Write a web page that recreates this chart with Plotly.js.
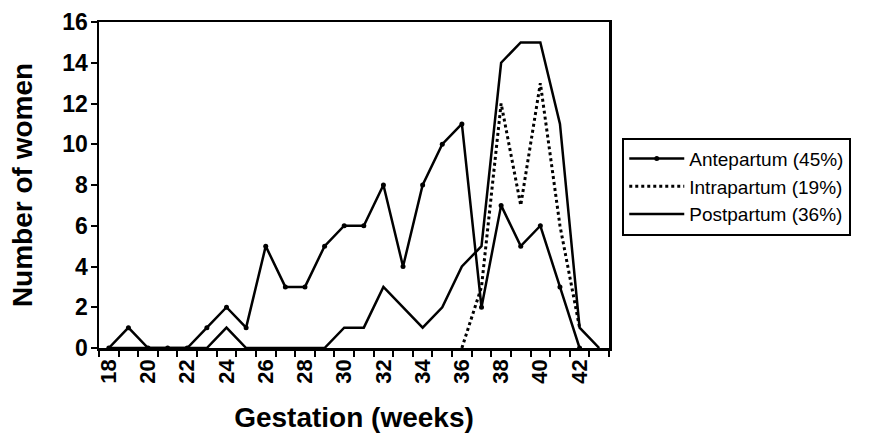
<!DOCTYPE html>
<html>
<head>
<meta charset="utf-8">
<script src="https://cdn.plot.ly/plotly-3.0.1.min.js"></script>
<style>
  html, body { margin: 0; padding: 0; background: #fff; }
  #chart { width: 877px; height: 439px; }
</style>
</head>
<body>
<div id="chart"></div>
<script>
// Gestational week at onset, one category per week
const weeks = [18, 19, 20, 21, 22, 23, 24, 25, 26, 27, 28, 29, 30,
               31, 32, 33, 34, 35, 36, 37, 38, 39, 40, 41, 42, 43];

// Number of women per week for each timing group (null = no point)
const antepartum  = [0, 1, 0, 0, 0, 1, 2, 1, 5, 3, 3, 5, 6,
                     6, 8, 4, 8, 10, 11, 2, 7, 5, 6, 3, 0, null];
const intrapartum = [null, null, null, null, null, null, null, null, null, null, null, null, null,
                     null, null, null, null, null, 0, 3, 12, 7, 13, 6, 1, null];
const postpartum  = [0, 0, 0, 0, 0, 0, 1, 0, 0, 0, 0, 0, 1,
                     1, 3, 2, 1, 2, 4, 5, 14, 15, 15, 11, 1, 0];

const seriesNames = ['Antepartum (45%)', 'Intrapartum (19%)', 'Postpartum (36%)'];

// Labelled weeks (every second one) and category boundaries for the tick marks
const labelWeeks = weeks.filter(w => w % 2 === 0 && w <= 42);
const boundaries = weeks.map(w => w - 0.5).concat([weeks[weeks.length - 1] + 0.5]);

const FONT = '"Liberation Sans", Arial, sans-serif';
const BLACK = '#000000';

const traces = [
  {
    x: weeks, y: antepartum, name: seriesNames[0], legendgroup: 'a',
    type: 'scatter', mode: 'lines+markers',
    line: { color: BLACK, width: 2.5 },
    marker: { color: BLACK, size: 5, symbol: 'circle' }
  },
  {
    x: weeks, y: intrapartum, name: seriesNames[1], legendgroup: 'b',
    type: 'scatter', mode: 'lines',
    line: { color: BLACK, width: 3, dash: 'dot' }
  },
  {
    x: weeks, y: postpartum, name: seriesNames[2], legendgroup: 'c',
    type: 'scatter', mode: 'lines',
    line: { color: BLACK, width: 2.5 }
  }
];

const layout = {
  width: 877, height: 439,
  margin: { l: 99, r: 268, t: 22, b: 91 },
  paper_bgcolor: '#ffffff',
  plot_bgcolor: '#ffffff',
  font: { family: FONT, color: BLACK },
  showlegend: true,
  legend: {
    x: 1.026, y: 0.645, xanchor: 'left', yanchor: 'top',
    bgcolor: '#ffffff', bordercolor: BLACK, borderwidth: 2,
    font: { family: FONT, size: 19, color: BLACK },
    tracegroupgap: 0,
    itemwidth: 55
  },
  xaxis: {
    range: [17.5, 43.5],
    tickmode: 'array', tickvals: labelWeeks, ticktext: labelWeeks.map(String),
    ticks: '', tickangle: -90,
    tickfont: { family: FONT, size: 22, color: BLACK, weight: 'bold' },
    minor: { tickmode: 'array', tickvals: boundaries, ticks: 'outside',
             ticklen: 6, tickwidth: 2, tickcolor: BLACK, showgrid: false },
    showgrid: false, zeroline: false,
    showline: true, linecolor: BLACK, linewidth: 2.5, mirror: true,
    title: { text: 'Gestation (weeks)', standoff: 25,
             font: { family: FONT, size: 28, color: BLACK, weight: 'bold' } }
  },
  yaxis: {
    range: [0, 16], dtick: 2, tick0: 0,
    ticks: 'outside', ticklen: 6, tickwidth: 2, tickcolor: BLACK,
    ticklabelstandoff: -2,
    tickfont: { family: FONT, size: 23, color: BLACK, weight: 'bold' },
    showgrid: false, zeroline: false,
    showline: true, linecolor: BLACK, linewidth: 2.5, mirror: true,
    title: { text: 'Number of women', standoff: 22,
             font: { family: FONT, size: 28, color: BLACK, weight: 'bold' } }
  }
};

Plotly.newPlot('chart', traces, layout, { displayModeBar: false, staticPlot: true });
</script>
</body>
</html>
